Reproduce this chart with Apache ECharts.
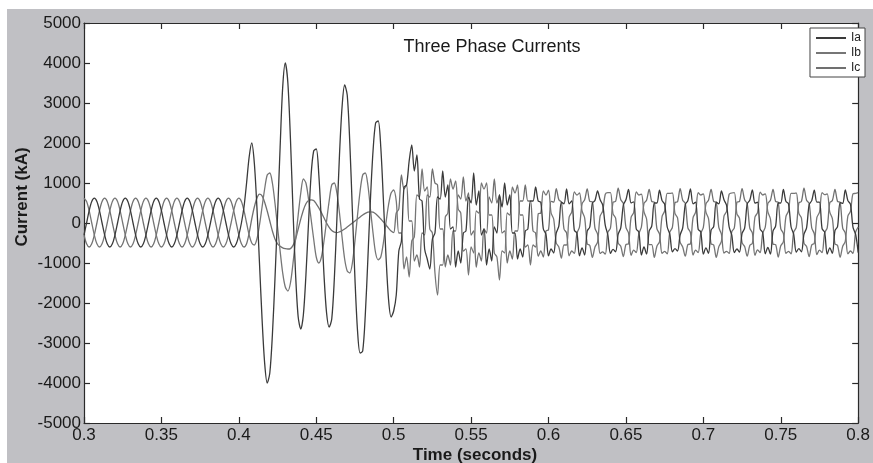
<!DOCTYPE html>
<html>
<head>
<meta charset="utf-8">
<script src="https://cdn.jsdelivr.net/npm/echarts@6/dist/echarts.min.js"></script>
<style>
html,body{margin:0;padding:0;background:#fff;width:873px;height:463px;overflow:hidden;}
#c{position:absolute;left:7px;top:9px;width:866px;height:454px;}
</style>
</head>
<body>
<div id="c"></div>
<script>
// Sampling of the recorded waveforms: start time and step (s)
const T0 = 0.3;
const DT = 1 / 600;

const xTicks = { min: 0.3, max: 0.8, interval: 0.05 };
const yTicks = { min: -5000, max: 5000, interval: 1000 };

const seriesNames = ['Ia', 'Ib', 'Ic'];

// Ia (kA)
const ia = [
-300,0,310,537,620,537,310,0,-300,-520,-600,-520,
-300,0,310,537,620,537,310,0,-300,-520,-600,-520,
-300,0,310,537,620,537,310,0,-300,-520,-600,-520,
-300,0,310,537,620,537,310,0,-300,-520,-600,-520,
-300,0,310,537,620,537,310,0,-300,-520,-600,-520,
-300,0,400,1000,1650,2000,1500,400,-1000,-2400,-3500,-4000,
-3750,-2800,-1400,200,1900,3400,4000,3500,2100,300,-1300,-2350,
-2650,-2300,-1300,0,1200,1800,1850,1200,0,-1300,-2250,-2600,
-2400,-1400,100,1700,2900,3450,3200,2000,300,-1400,-2700,-3250,
-3200,-2300,-900,600,1800,2500,2550,1900,600,-800,-1900,-2350,
-2200,
-1800,-700,-450,900,950,1550,1950,1300,1700,600,550,-650,
-900,-1150,-400,-250,650,600,1300,650,950,-150,-100,-1100,
-700,-1000,-250,-200,650,500,1250,450,800,-300,-150,-1050,
-650,-950,-100,-250,700,400,1000,450,700,-250,-250,-900,
-650,-850,-200,-150,550,550,900,550,520,-150,-280,-820,
-650,-750,-250,-80,520,480,850,480,550,-180,-250,-820,
-620,-800,-200,-100,500,560,800,580,450,-60,-300,-760,
-660,-720,-280,-120,450,580,840,500,530,-150,-230,-800,
-600,-780,-200,-80,500,500,820,560,470,-100,-280,-720,
-640,-700,-300,-120,460,560,850,480,520,-160,-220,-780,
-620,-760,-180,-90,520,480,800,580,440,-100,-300,-740,
-650,-730,-260,-130,480,570,830,500,520,-150,-240,-770,
-610,-780,-200,-80,500,500,840,540,480,-100,-280,-730,
-640,-720,-280,-120,460,560,820,520,520,-140,-230,-780,
-620,-760,-190,-90,510,490,830,560,470,-110,-280,-740
];

// Ib (kA)
const ib = [
620,537,310,0,-300,-520,-600,-520,-300,0,310,537,
620,537,310,0,-300,-520,-600,-520,-300,0,310,537,
620,537,310,0,-300,-520,-600,-520,-300,0,310,537,
620,537,310,0,-300,-520,-600,-520,-300,0,310,537,
620,537,310,0,-300,-520,-600,-520,-300,0,310,537,
620,537,310,0,-300,-500,-550,-400,-50,400,850,1200,
1250,1000,500,-100,-700,-1250,-1600,-1700,-1500,-1000,-400,200,
750,1100,1000,600,100,-400,-850,-1000,-850,-450,50,550,
950,1000,750,250,-350,-900,-1200,-1250,-1000,-450,200,800,
1200,1250,950,350,-250,-750,-920,-850,-500,0,450,750,
825,
550,-250,-250,-1150,-850,-1350,-450,-350,700,650,1350,800,
900,-150,-250,-1250,-1800,-1050,-1050,150,250,1100,850,1050,
350,250,-700,-650,-1300,-600,-750,300,250,1000,850,1000,
200,200,-750,-850,-1425,-700,-750,250,200,900,750,950,
200,200,-600,-550,-1050,-550,-600,230,250,800,700,820,
250,100,-500,-600,-880,-550,-550,150,280,780,700,750,
300,130,-520,-560,-860,-600,-480,170,300,720,760,760,
230,120,-500,-580,-840,-540,-520,140,260,780,700,720,
280,100,-540,-540,-860,-580,-470,160,300,740,740,750,
240,130,-480,-600,-830,-540,-520,130,270,760,700,730,
270,110,-520,-550,-860,-590,-460,170,290,720,750,760,
230,120,-490,-590,-830,-560,-510,150,260,770,700,730,
280,100,-530,-540,-850,-570,-470,160,300,740,740,750,
240,130,-500,-590,-840,-550,-510,140,270,760,710,730,
270,110,-520,-560,-860,-580,-460,170,290,730,740,760
];

// Ic (kA)
const ic = [
-300,-520,-600,-520,-300,0,310,537,620,537,310,0,
-300,-520,-600,-520,-300,0,310,537,620,537,310,0,
-300,-520,-600,-520,-300,0,310,537,620,537,310,0,
-300,-520,-600,-520,-300,0,310,537,620,537,310,0,
-300,-520,-600,-520,-300,0,310,537,620,537,310,0,
-300,-520,-600,-520,-250,100,400,620,720,680,520,300,
50,-200,-400,-520,-580,-620,-640,-650,-640,-560,-400,-150,
100,320,480,560,580,560,480,380,260,130,0,-110,
-190,-230,-240,-220,-190,-150,-100,-50,0,50,100,150,
200,240,270,280,270,230,170,100,30,-50,-130,-200,
-240,
250,350,1200,850,950,50,50,-950,-800,-1100,-250,-300,
700,650,1350,1000,950,-150,-150,-1100,-800,-1050,-200,-200,
700,600,1150,550,750,-300,-200,-1100,-750,-950,-150,-250,
650,500,1100,500,700,-250,-200,-1000,-700,-900,-200,-200,
550,550,950,550,550,-200,-250,-830,-700,-850,-200,-170,
540,520,860,580,520,-150,-250,-820,-700,-760,-260,-100,
480,580,850,540,530,-130,-280,-760,-720,-780,-230,-130,
520,540,870,580,490,-110,-250,-810,-680,-740,-270,-100,
490,570,840,540,520,-140,-270,-760,-710,-770,-230,-110,
510,530,860,570,490,-120,-240,-800,-680,-740,-260,-110,
480,570,840,540,520,-110,-280,-750,-710,-760,-220,-120,
520,540,860,580,480,-130,-250,-810,-670,-740,-260,-100,
490,570,840,540,520,-140,-260,-760,-710,-770,-230,-110,
500,540,870,570,490,-120,-270,-790,-680,-740,-250,-120,
510,560,840,540,520,-130,-250,-770,-700,-760,-230,-100
];

const FONT = '"Liberation Sans", Arial, Helvetica, sans-serif';
const toPairs = arr => arr.map((v, i) => [T0 + i * DT, v]);
const axisCol = '#2a2a2a';

const chart = echarts.init(document.getElementById('c'), null, { renderer: 'canvas' });

function xAx(pos, showLabel) {
  return {
    type: 'value', position: pos, min: xTicks.min, max: xTicks.max, interval: xTicks.interval,
    axisLine: { show: true, onZero: false, lineStyle: { color: axisCol, width: 1.2 } },
    axisTick: { show: true, inside: true, length: 6, lineStyle: { color: axisCol, width: 1.2 } },
    axisLabel: { show: showLabel, color: '#1a1a1a', fontSize: 17, fontFamily: FONT, margin: 4,
      formatter: v => String(+v.toFixed(2)) },
    splitLine: { show: false }
  };
}
function yAx(pos, showLabel) {
  return {
    type: 'value', position: pos, min: yTicks.min, max: yTicks.max, interval: yTicks.interval,
    axisLine: { show: true, onZero: false, lineStyle: { color: axisCol, width: 1.2 } },
    axisTick: { show: true, inside: true, length: 6, lineStyle: { color: axisCol, width: 1.2 } },
    axisLabel: { show: showLabel, color: '#1a1a1a', fontSize: 17, fontFamily: FONT, margin: 3,
      formatter: v => String(Math.round(v)) },
    splitLine: { show: false }
  };
}

const lineSeries = (name, data, color, width) => ({
  name, type: 'line', data: toPairs(data), xAxisIndex: 0, yAxisIndex: 0,
  symbol: 'none', showSymbol: false, smooth: 0.3, sampling: false,
  lineStyle: { color, width }, itemStyle: { color }
});

chart.setOption({
  animation: false,
  backgroundColor: '#c0c0c4',
  grid: { left: 77, top: 14, width: 785, height: 400, show: true, backgroundColor: '#ffffff', borderWidth: 0 },
  xAxis: [xAx('bottom', true), xAx('top', false)],
  yAxis: [yAx('left', true), yAx('right', false)],
  legend: {
    data: seriesNames, orient: 'vertical', right: 8, top: 19,
    backgroundColor: '#ffffff', borderColor: '#444', borderWidth: 1, borderRadius: 0,
    padding: [4, 4, 3, 6], itemGap: 3, itemWidth: 30, itemHeight: 2, icon: 'rect',
    textStyle: { fontSize: 12, color: '#222', fontFamily: FONT }
  },
  graphic: [
    { type: 'text', x: 485, y: 38, style: { text: 'Three Phase Currents', font: '18px ' + FONT, fill: '#1a1a1a', textAlign: 'center', textVerticalAlign: 'middle' } },
    { type: 'text', x: 468, y: 446, style: { text: 'Time (seconds)', font: 'bold 17px ' + FONT, fill: '#1a1a1a', textAlign: 'center', textVerticalAlign: 'middle' } },
    { type: 'text', x: 15.5, y: 188, rotation: Math.PI / 2, style: { text: 'Current (kA)', font: 'bold 17px ' + FONT, fill: '#1a1a1a', textAlign: 'center', textVerticalAlign: 'middle' } }
  ],
  series: [
    lineSeries('Ic', ic, '#707070', 1.3),
    lineSeries('Ib', ib, '#767676', 1.3),
    lineSeries('Ia', ia, '#3a3a3a', 1.3)
  ]
});
</script>
</body>
</html>
